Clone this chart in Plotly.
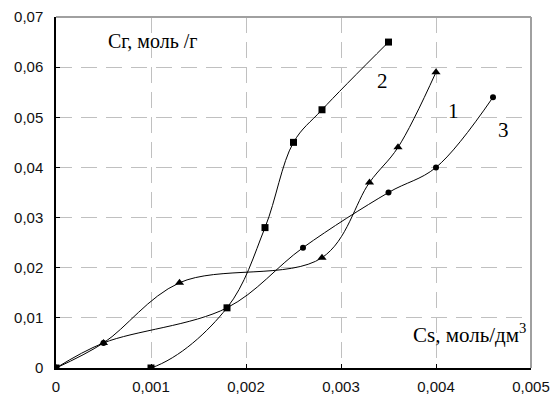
import plotly.graph_objects as go

# Series 1 (triangles)
s1_x = [0, 0.0005, 0.0013, 0.0028, 0.0033, 0.0036, 0.0040]
s1_y = [0, 0.005, 0.017, 0.022, 0.037, 0.044, 0.059]
# Series 2 (squares)
s2_x = [0, 0.0010, 0.0018, 0.0022, 0.0025, 0.0028, 0.0035]
s2_y = [0, 0.0, 0.012, 0.028, 0.045, 0.0515, 0.065]
# Series 3 (circles)
s3_x = [0, 0.0005, 0.0018, 0.0026, 0.0035, 0.0040, 0.0046]
s3_y = [0, 0.005, 0.012, 0.024, 0.035, 0.040, 0.054]

x_ticks = [0, 0.001, 0.002, 0.003, 0.004, 0.005]
x_labels = ["0", "0,001", "0,002", "0,003", "0,004", "0,005"]
y_ticks = [0, 0.01, 0.02, 0.03, 0.04, 0.05, 0.06, 0.07]
y_labels = ["0", "0,01", "0,02", "0,03", "0,04", "0,05", "0,06", "0,07"]

fig = go.Figure()
line = dict(color="black", width=1, shape="spline", smoothing=1)
fig.add_trace(go.Scatter(x=s3_x, y=s3_y, mode="lines+markers", line=line,
                         marker=dict(symbol="circle", size=6, color="black")))
fig.add_trace(go.Scatter(x=s1_x, y=s1_y, mode="lines+markers", line=line,
                         marker=dict(symbol="triangle-up", size=8, color="black")))
fig.add_trace(go.Scatter(x=s2_x, y=s2_y, mode="lines+markers", line=line,
                         marker=dict(symbol="square", size=7, color="black")))

serif = "Liberation Serif, Times New Roman, serif"
fig.add_annotation(x=0.00102, y=0.0652, text="Сг, моль /г", showarrow=False,
                   font=dict(family=serif, size=20, color="black"))
fig.add_annotation(x=0.00344, y=0.0572, text="2", showarrow=False,
                   font=dict(family=serif, size=21, color="black"))
fig.add_annotation(x=0.00418, y=0.0512, text="1", showarrow=False,
                   font=dict(family=serif, size=21, color="black"))
fig.add_annotation(x=0.00471, y=0.0474, text="3", showarrow=False,
                   font=dict(family=serif, size=21, color="black"))
fig.add_annotation(x=0.00497, y=0.0068, text="Cs, моль/дм<sup>3</sup>", showarrow=False,
                   xanchor="right", font=dict(family=serif, size=21, color="black"))

# grey top and right frame
fig.add_shape(type="line", xref="paper", yref="paper", x0=0, x1=1, y0=1, y1=1,
              line=dict(color="#a0a0a0", width=2))
fig.add_shape(type="line", xref="paper", yref="paper", x0=1, x1=1, y0=0, y1=1,
              line=dict(color="#a0a0a0", width=2))

sans = "Liberation Sans, Arial, sans-serif"
fig.update_xaxes(range=[0, 0.005], tickvals=x_ticks, ticktext=x_labels,
                 showgrid=True, gridcolor="#c0c0c0", griddash="16px,9px", gridwidth=1,
                 showline=True, linecolor="black", linewidth=1.5, automargin=False,
                 ticks="inside", ticklen=4, tickcolor="black", ticklabelstandoff=4,
                 zeroline=False, tickfont=dict(family=sans, size=15, color="#111111"))
fig.update_yaxes(range=[0, 0.07], tickvals=y_ticks, ticktext=y_labels,
                 showgrid=True, gridcolor="#c0c0c0", griddash="16px,9px", gridwidth=1,
                 showline=True, linecolor="black", linewidth=1.5, automargin=False,
                 ticks="inside", ticklen=4, tickcolor="black", ticklabelstandoff=8,
                 zeroline=False, tickfont=dict(family=sans, size=15, color="#111111"))

fig.update_layout(width=550, height=401, showlegend=False,
                  margin=dict(l=56, r=19, t=17, b=33, autoexpand=False),
                  plot_bgcolor="white", paper_bgcolor="white")
fig.write_html("out.html", config={"displayModeBar": False},
               post_script="document.body.style.margin='0';")
